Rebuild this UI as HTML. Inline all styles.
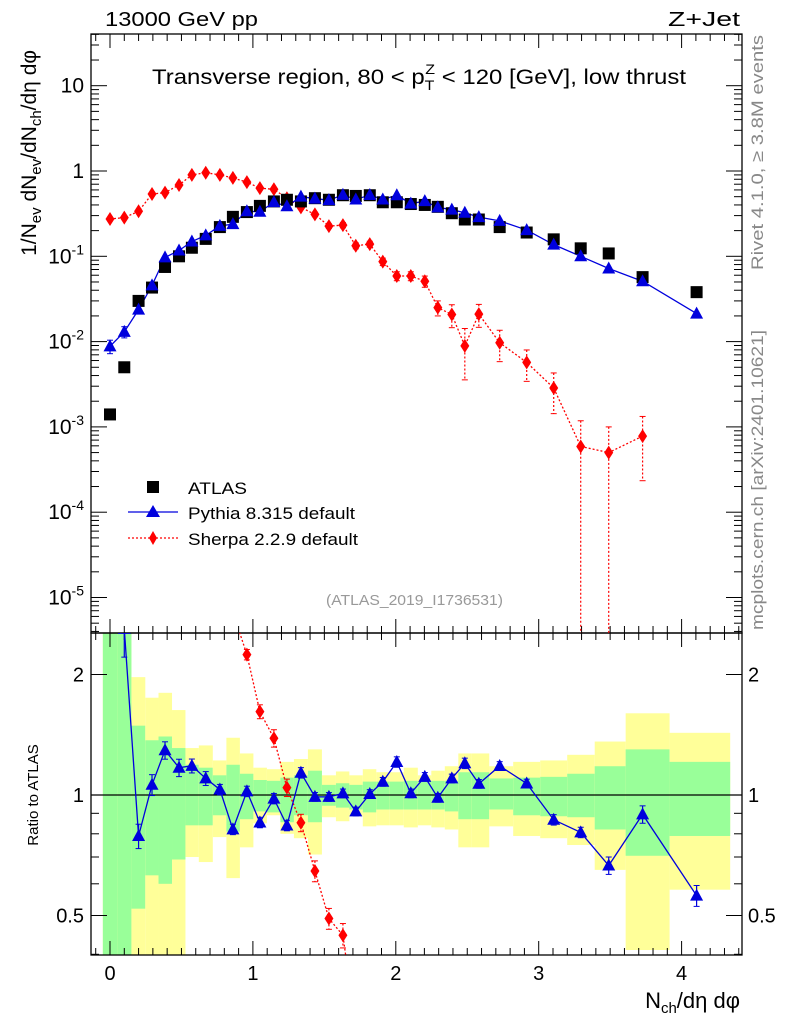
<!DOCTYPE html>
<html><head><meta charset="utf-8"><style>
html,body{margin:0;padding:0;background:#fff;width:786px;height:1024px;overflow:hidden;}
svg{display:block;font-family:"Liberation Sans","DejaVu Sans",sans-serif;}
</style></head><body>
<svg id="c" width="786" height="1024" viewBox="0 0 786 1024" xmlns="http://www.w3.org/2000/svg">
<g id="bands"></g>
<g id="grid"></g>
<g id="marks"></g>
<text x="105" y="26" font-size="20" textLength="153" lengthAdjust="spacingAndGlyphs">13000 GeV pp</text>
<text x="668" y="26" font-size="20" textLength="72" lengthAdjust="spacingAndGlyphs">Z+Jet</text>
<text x="152" y="84" font-size="21" textLength="534" lengthAdjust="spacingAndGlyphs">Transverse region, 80 &lt; p<tspan font-size="14" dy="6">T</tspan><tspan font-size="14" dx="-8" dy="-16">Z</tspan><tspan dy="10"> &lt; 120 [GeV], low thrust</tspan></text>
<text transform="translate(36,50) rotate(-90)" font-size="21" text-anchor="end">1/N<tspan font-size="15" dy="5">ev</tspan><tspan dy="-5"> dN</tspan><tspan font-size="15" dy="5">ev</tspan><tspan dy="-5">/dN</tspan><tspan font-size="15" dy="5">ch</tspan><tspan dy="-5">/dη dφ</tspan></text>
<text transform="translate(763,270) rotate(-90)" font-size="17" fill="#888" textLength="235" lengthAdjust="spacingAndGlyphs">Rivet 4.1.0, ≥ 3.8M events</text>
<text transform="translate(763,630) rotate(-90)" font-size="17" fill="#888" textLength="300" lengthAdjust="spacingAndGlyphs">mcplots.cern.ch [arXiv:2401.10621]</text>
<text x="326" y="605" font-size="15" fill="#999" textLength="177" lengthAdjust="spacingAndGlyphs">(ATLAS_2019_I1736531)</text>
<text transform="translate(38,795) rotate(-90)" font-size="15" text-anchor="middle">Ratio to ATLAS</text>
<text x="740" y="1008" font-size="22" text-anchor="end">N<tspan font-size="15" dy="5">ch</tspan><tspan dy="-5">/dη dφ</tspan></text>
<g>
 <rect x="147" y="481" width="12" height="12" fill="#000"/>
 <text x="188" y="494" font-size="17" textLength="59" lengthAdjust="spacingAndGlyphs">ATLAS</text>
 <line x1="128" y1="512" x2="178" y2="512" stroke="#0000dd" stroke-width="1.3"/>
 <polygon points="153,505 160,517 146,517" fill="#0000dd"/>
 <text x="188" y="519" font-size="17" textLength="167" lengthAdjust="spacingAndGlyphs">Pythia 8.315 default</text>
 <line x1="128" y1="538" x2="178" y2="538" stroke="#f00" stroke-width="1.3" stroke-dasharray="2,2"/>
 <polygon points="153,531 157,538 153,545 149,538" fill="#f00"/>
 <text x="188" y="545" font-size="17" textLength="170" lengthAdjust="spacingAndGlyphs">Sherpa 2.2.9 default</text>
</g>
</svg>
<script>
const xCenters=[0,0.1,0.2,0.294,0.385,0.483,0.573,0.67,0.769,0.86,0.958,1.049,1.147,1.238,1.336,1.434,1.532,1.63,1.72,1.818,1.909,2.007,2.105,2.203,2.294,2.392,2.483,2.581,2.727,2.916,3.105,3.294,3.49,3.727,4.105];
const atlasVals=[0.0014,0.005,0.030,0.043,0.075,0.10,0.126,0.16,0.22,0.29,0.33,0.39,0.44,0.46,0.44,0.48,0.46,0.52,0.51,0.52,0.43,0.43,0.41,0.40,0.38,0.32,0.27,0.27,0.22,0.19,0.158,0.124,0.108,0.057,0.038];
const pythiaVals=[0.0088,0.013,0.0237,0.0456,0.097,0.117,0.149,0.176,0.227,0.238,0.337,0.333,0.431,0.386,0.50,0.475,0.455,0.525,0.464,0.523,0.464,0.52,0.414,0.444,0.374,0.352,0.324,0.288,0.26,0.203,0.137,0.100,0.072,0.051,0.0213];
const pythiaRelErr=[0.18,0.15,0.07,0.06,0.05,0.05,0.04,0.04,0.03,0.03,0.03,0.03,0.03,0.03,0.03,0.02,0.02,0.02,0.02,0.02,0.02,0.03,0.02,0.02,0.02,0.02,0.03,0.02,0.02,0.02,0.03,0.03,0.05,0.05,0.06];
const sherpaVals=[0.274,0.284,0.337,0.537,0.557,0.686,0.90,0.955,0.90,0.83,0.74,0.63,0.61,0.48,0.375,0.31,0.226,0.232,0.133,0.139,0.0865,0.0588,0.0588,0.051,0.025,0.0208,0.0089,0.021,0.0097,0.0057,0.00286,0.00059,0.0005,0.00078];
const sherpaRelErr=[0.03,0.03,0.03,0.03,0.03,0.03,0.03,0.03,0.03,0.03,0.03,0.04,0.05,0.05,0.05,0.06,0.06,0.07,0.08,0.08,0.1,0.12,0.12,0.15,0.2,0.3,0.6,0.3,0.4,0.4,0.5,1,1,0.7];
const yelHi=[3,3,1.97,1.75,1.8,1.63,1.31,1.33,1.22,1.39,1.27,1.17,1.16,1.21,1.23,1.30,1.12,1.145,1.12,1.16,1.14,1.14,1.17,1.12,1.15,1.18,1.27,1.27,1.18,1.21,1.22,1.26,1.36,1.60,1.43];
const grnHi=[3,3,1.49,1.37,1.40,1.31,1.19,1.17,1.12,1.19,1.13,1.09,1.085,1.105,1.12,1.15,1.06,1.07,1.06,1.08,1.08,1.08,1.085,1.08,1.085,1.085,1.14,1.14,1.10,1.105,1.11,1.13,1.18,1.30,1.21];
const grnLo=[0.3,0.3,0.52,0.63,0.60,0.69,0.84,0.84,0.89,0.81,0.87,0.91,0.905,0.855,0.89,0.855,0.94,0.93,0.92,0.905,0.92,0.92,0.92,0.92,0.92,0.91,0.87,0.87,0.92,0.89,0.885,0.88,0.82,0.705,0.79];
const yelLo=[0.3,0.3,0.3,0.3,0.3,0.3,0.70,0.68,0.785,0.62,0.74,0.85,0.89,0.80,0.78,0.71,0.88,0.86,0.885,0.835,0.84,0.84,0.83,0.84,0.83,0.82,0.74,0.74,0.835,0.79,0.78,0.75,0.65,0.41,0.58];
const mainTicks=[10,1,0.1,0.01,0.001,0.0001,0.00001];
const mainTickLabels=["10","1","10^-1","10^-2","10^-3","10^-4","10^-5"];
const ratioTicks=[2,1,0.5];
const ratioTickLabels=["2","1","0.5"];
const xTicks=[0,1,2,3,4];

const NS="http://www.w3.org/2000/svg";
const L=91,R=742,T=34,MB=633,B=955;
const X=v=>110+v*142.9;
const Y=v=>171-85.3*Math.log10(v);
const RY=v=>795-120.5*Math.log2(v);
function el(tag,attrs,parent){const e=document.createElementNS(NS,tag);for(const k in attrs)e.setAttribute(k,attrs[k]);parent.appendChild(e);return e;}
const gB=document.getElementById('bands'),gG=document.getElementById('grid'),gM=document.getElementById('marks');

const edges=[X(-0.05)];
for(let i=0;i<xCenters.length-1;i++)edges.push(X((xCenters[i]+xCenters[i+1])/2));
edges.push(X(4.34));
const clampR=y=>Math.max(MB,Math.min(B,y));
for(let i=0;i<xCenters.length;i++){
 const a=edges[i],b=edges[i+1];
 let y1=clampR(RY(yelHi[i])),y2=clampR(RY(yelLo[i]));
 const ry=el('rect',{x:a,y:y1,width:b-a,height:y2-y1,fill:'#ffff99'},gB);
 
 
 y1=clampR(RY(grnHi[i]));y2=clampR(RY(grnLo[i]));
 const rg=el('rect',{x:a,y:y1,width:b-a,height:y2-y1,fill:'#99ff99'},gB);
 
 
}

for(const [t,b] of [[T,MB],[MB,B]]){
 const f=el('rect',{x:L,y:t,width:R-L,height:b-t,fill:'none',stroke:'#000','stroke-width':1.3},gG);
 
 
}
for(let v=-0.1;v<=4.41;v+=0.1){
 const vv=Math.round(v*10)/10;const major=Math.abs(vv-Math.round(vv))<1e-6;const x=X(vv);
 if(x<L||x>R)continue;const len=major?14:7;
 for(const [y0,d] of [[MB,-1],[T,1],[B,-1],[MB,1]]){el('line',{x1:x,y1:y0,x2:x,y2:y0+d*len,stroke:'#000','stroke-width':1},gG);}
}
xTicks.forEach(v=>{const t=el('text',{x:X(v),y:980,'font-size':20,'text-anchor':'middle'},gG);t.textContent=v;
 
 });
for(let d=-6;d<=1;d++){for(let m=1;m<10;m++){const v=m*Math.pow(10,d);const y=Y(v);if(y<T||y>MB)continue;const len=m==1?16:8;
 el('line',{x1:L,y1:y,x2:L+len,y2:y,stroke:'#000','stroke-width':1},gG);el('line',{x1:R,y1:y,x2:R-len,y2:y,stroke:'#000','stroke-width':1},gG);}}
mainTicks.forEach((v,i)=>{const s=mainTickLabels[i];const t=el('text',{x:84,y:Y(v)+7,'font-size':21,'text-anchor':'end'},gG);
 if(s.includes('^')){const p=s.split('^');t.textContent=p[0];const sp=el('tspan',{'font-size':14,dy:-9},t);sp.textContent=p[1];}else t.textContent=s;
 
 });
[0.4,0.5,0.6,0.7,0.8,0.9,1,2].forEach(v=>{const y=RY(v);const len=(v==1||v==2||v==0.5)?16:8;
 el('line',{x1:L,y1:y,x2:L+len,y2:y,stroke:'#000'},gG);el('line',{x1:R,y1:y,x2:R-len,y2:y,stroke:'#000'},gG);});
ratioTicks.forEach((v,i)=>{for(const [x,a] of [[84,'end'],[748,'start']]){const t=el('text',{x:x,y:RY(v)+7,'font-size':20,'text-anchor':a},gG);t.textContent=ratioTickLabels[i];
 
 }});
const ref=el('line',{x1:L,y1:RY(1),x2:R,y2:RY(1),stroke:'#000','stroke-width':1.2},gG);



const defs=el('defs',{},document.getElementById('c'));
const c1=el('clipPath',{id:'cm'},defs);el('rect',{x:L,y:T,width:R-L,height:MB-T},c1);
const c2=el('clipPath',{id:'cr'},defs);el('rect',{x:L,y:MB,width:R-L,height:B-MB},c2);
const gMain=el('g',{'clip-path':'url(#cm)'},gM),gRat=el('g',{'clip-path':'url(#cr)'},gM);

function tri(g,x,y,name){const p=el('polygon',{points:`${x},${y-7} ${x+6.5},${y+5} ${x-6.5},${y+5}`,fill:'#0000dd'},g);
 
 }
function dia(g,x,y,name){const p=el('polygon',{points:`${x},${y-7} ${x+4.5},${y} ${x},${y+7} ${x-4.5},${y}`,fill:'#f00'},g);
 
 }
function errbar(g,x,y1,y2,col,dash){el('line',{x1:x,y1:y1,x2:x,y2:y2,stroke:col,'stroke-width':1.2,'stroke-dasharray':dash||'none'},g);
 el('line',{x1:x-3,y1:y1,x2:x+3,y2:y1,stroke:col},g);el('line',{x1:x-3,y1:y2,x2:x+3,y2:y2,stroke:col},g);}

let pts=sherpaVals.map((v,i)=>X(xCenters[i])+','+Y(v)).join(' ');
const sl=el('polyline',{points:pts,fill:'none',stroke:'#f00','stroke-width':1.3,'stroke-dasharray':'2,2'},gMain);


sherpaVals.forEach((v,i)=>{const x=X(xCenters[i]);const e=sherpaRelErr[i];
 if(e>0.04)errbar(gMain,x,Y(v*(1+e)),e>=1?MB+5:Y(v*(1-e)),'#f00','2,2');dia(gMain,x,Y(v),'sherpa-point');});
pts=pythiaVals.map((v,i)=>X(xCenters[i])+','+Y(v)).join(' ');
const pl=el('polyline',{points:pts,fill:'none',stroke:'#0000dd','stroke-width':1.3},gMain);


pythiaVals.forEach((v,i)=>{const x=X(xCenters[i]);const e=pythiaRelErr[i];if(e>0.1)errbar(gMain,x,Y(v*(1+e)),Y(v*(1-e)),'#0000dd');});
atlasVals.forEach((v,i)=>{const r=el('rect',{x:X(xCenters[i])-6,y:Y(v)-6,width:12,height:12,fill:'#000'},gMain);
 
 });
pythiaVals.forEach((v,i)=>tri(gMain,X(xCenters[i]),Y(v),'pythia-point'));

// ratio: sherpa (only points that lie within a reasonable range)
const sIdx=sherpaVals.map((v,i)=>i).filter(i=>sherpaVals[i]/atlasVals[i]>0.2);
pts=sIdx.map(i=>X(xCenters[i])+','+RY(sherpaVals[i]/atlasVals[i])).join(' ');
const sr=el('polyline',{points:pts,fill:'none',stroke:'#f00','stroke-width':1.3,'stroke-dasharray':'2,2'},gRat);


sIdx.forEach(i=>{const r=sherpaVals[i]/atlasVals[i];const x=X(xCenters[i]);const e=Math.min(sherpaRelErr[i],0.5);
 errbar(gRat,x,RY(r*(1+e)),RY(r*(1-e)),'#f00','2,2');dia(gRat,x,RY(r),'sherpa-ratio-point');});
pts=pythiaVals.map((v,i)=>X(xCenters[i])+','+RY(v/atlasVals[i])).join(' ');
const pr=el('polyline',{points:pts,fill:'none',stroke:'#0000dd','stroke-width':1.3},gRat);


pythiaVals.forEach((v,i)=>{const r=v/atlasVals[i];const x=X(xCenters[i]);const e=Math.max(pythiaRelErr[i],0.025);
 errbar(gRat,x,RY(r*(1+e)),RY(r*(1-e)),'#0000dd');tri(gRat,x,RY(r),'pythia-ratio-point');});
</script>
</body></html>
